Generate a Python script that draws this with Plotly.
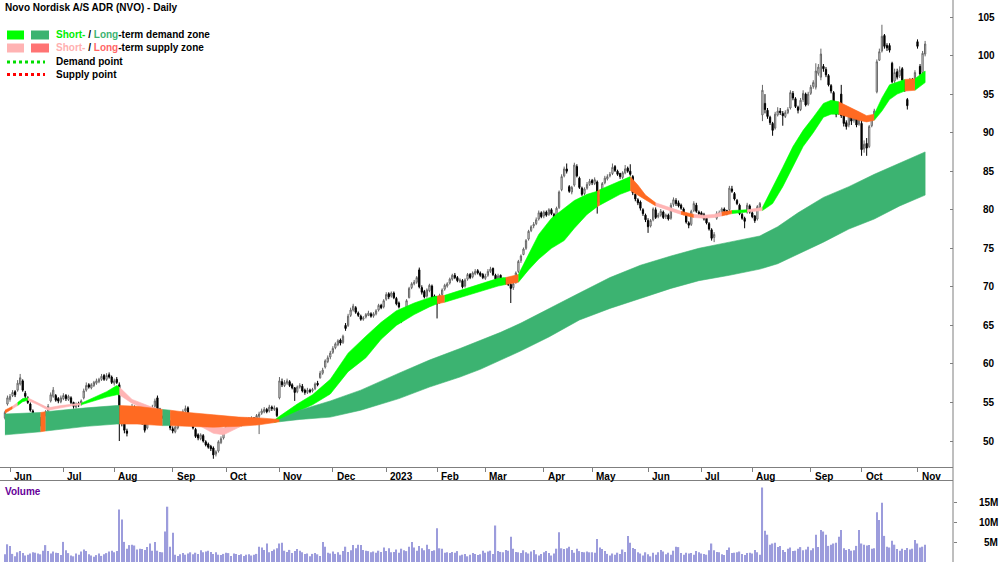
import pandas as pd
import plotly.graph_objects as go

# ------------------------------------------------------------------ data
TITLE = "Novo Nordisk A/S ADR (NVO) - Daily"
FIRST_SESSION = "2022-05-27"
LAST_SESSION = "2023-11-07"
HOLIDAYS = ["2022-05-30", "2022-06-20", "2022-07-04", "2022-09-05", "2022-11-24",
            "2022-12-26", "2023-01-02", "2023-01-16", "2023-02-20", "2023-04-07",
            "2023-05-29", "2023-06-19", "2023-07-04", "2023-09-04"]

opens = [
    53.0, 54.8,
    55.4, 55.9, 56.4, 56.6, 57.4, 57.8, 56.2, 55.6, 54.8, 53.9, 53.4, 53.2, 52.9, 52.7, 53.5, 53.9, 55.2, 55.8, 55.9, 55.5, 55.1,
    55.5, 55.9, 55.4, 55.6, 55.0, 54.4, 54.9, 54.8, 55.6, 56.6, 57.3, 56.9, 57.2, 57.5, 57.7, 58.0, 58.5, 58.0, 58.6, 58.3,
    57.5, 58.0, 57.3, 52.9, 52.2, 51.3, 52.9, 53.7, 54.3, 53.8, 53.0, 52.6, 52.2, 51.7, 52.7, 53.7, 54.5, 55.6, 54.1, 53.5, 53.1, 52.8, 52.5,
    51.6, 51.2, 51.7, 52.3, 52.9, 53.9, 54.3, 53.1, 52.3, 51.5, 50.8, 50.3, 50.7, 49.9, 49.6, 49.3, 49.1, 48.3, 48.7, 49.8, 50.4,
    51.3, 51.9, 52.5, 52.9, 52.4, 52.6, 52.1, 52.4, 52.8, 52.6, 52.8, 53.0, 52.7, 53.2, 53.6, 53.8, 54.1, 53.9, 54.4, 54.1, 54.2,
    55.6, 57.7, 57.2, 57.5, 57.7, 57.3, 56.9, 56.4, 57.0, 57.1, 56.6, 56.3, 56.6, 56.5, 56.8, 57.5, 58.2, 58.8, 59.6, 60.3, 60.9,
    61.5, 62.1, 62.5, 63.1, 62.8, 65.0, 65.0, 66.3, 67.0, 67.3, 66.6, 66.2, 65.8, 66.1, 66.3, 66.5, 66.2, 66.5, 67.0, 67.6, 67.4,
    68.4, 69.1, 68.8, 69.2, 68.5, 67.9, 65.5, 66.1, 67.4, 68.6, 69.9, 70.4, 70.6, 72.2, 69.9, 69.4, 68.8, 69.5, 70.1, 68.8,
    68.5, 68.0, 69.0, 69.7, 70.1, 70.5, 71.0, 71.5, 71.2, 70.7, 70.8, 70.1, 71.0, 71.6, 71.3, 71.7, 72.1, 71.8, 71.6,
    71.1, 71.5, 72.0, 72.4, 71.5, 71.0, 71.5, 70.6, 70.9, 70.6, 70.3, 69.9, 70.6, 72.0, 73.4, 74.2, 75.0, 76.2, 77.3, 77.9, 78.2, 78.8, 79.6,
    79.2, 79.7, 79.4, 80.0, 79.4, 79.0, 80.3, 82.6, 84.4, 85.3, 83.0, 82.3, 83.2, 85.6, 84.1, 82.8, 82.1, 82.8, 83.3,
    83.8, 83.4, 83.6, 81.1, 81.9, 83.5, 84.0, 84.4, 84.7, 85.6, 85.0, 84.7, 84.2, 84.8, 85.4, 85.0, 84.3, 82.0, 81.3, 81.0, 80.0, 79.3,
    78.6, 77.9, 78.7, 80.0, 79.1, 79.3, 79.7, 79.1, 79.3, 78.9, 80.7, 81.2, 80.9, 80.6, 80.1, 79.4, 78.3, 78.1, 79.9, 80.6, 79.7,
    79.6, 79.4, 78.9, 78.2, 77.4, 76.4, 78.9, 79.4, 79.7, 80.1, 79.9, 80.0, 82.7, 82.1, 81.2, 80.6, 79.4, 78.9, 79.7,
    80.5, 79.6, 79.2, 78.8, 80.3, 92.3, 93.8, 92.9, 92.0, 91.2, 90.6, 92.3, 92.8, 92.5, 92.1, 92.6, 93.2, 95.1, 94.4, 93.3, 93.0, 94.3, 95.0,
    93.7, 95.1, 96.0, 95.9, 97.7, 97.2, 98.6, 98.2, 97.4, 96.1, 95.2, 93.0, 92.5, 95.0, 92.3, 91.3, 91.0, 92.1, 91.6, 91.9,
    91.1, 91.2, 87.9, 88.6, 88.2, 90.9, 92.0, 95.3, 99.4, 100.6, 102.6, 101.3, 101.3, 99.0, 96.7, 97.9, 97.4, 98.3, 96.6, 94.3, 95.8, 96.9,
    96.5, 101.8, 98.6, 97.8, 100.2,
]
highs = [
    53.9, 55.9,
    56.1, 56.6, 56.6, 57.9, 58.7, 58.0, 56.5, 55.8, 55.0, 54.1, 53.6, 53.4, 53.1, 53.6, 54.0, 54.8, 56.3, 57.0, 56.1, 55.7, 55.9,
    56.2, 56.1, 56.0, 55.8, 55.1, 55.0, 55.1, 55.4, 56.8, 57.6, 57.5, 57.5, 57.8, 58.1, 58.2, 58.7, 58.7, 58.8, 58.9, 58.5,
    58.1, 58.3, 57.6, 53.3, 52.5, 51.6, 53.9, 54.8, 54.6, 54.1, 53.3, 52.8, 52.4, 52.9, 53.9, 54.7, 55.5, 55.9, 54.3, 53.7, 53.3, 53.1, 52.7,
    51.9, 52.0, 52.4, 53.0, 54.1, 54.6, 54.5, 53.3, 52.5, 51.7, 51.0, 51.0, 50.9, 50.1, 49.8, 49.5, 49.3, 48.8, 50.1, 50.6, 51.5,
    52.0, 52.8, 53.1, 53.1, 52.9, 52.8, 52.6, 53.0, 53.0, 53.1, 53.2, 53.1, 53.5, 53.8, 54.2, 54.4, 54.3, 54.7, 54.6, 54.6, 54.4,
    58.3, 58.1, 57.9, 58.1, 57.9, 57.5, 57.0, 57.2, 57.5, 57.4, 56.8, 56.9, 56.8, 56.9, 57.6, 57.8, 59.1, 59.5, 60.6, 61.1, 61.7,
    62.3, 62.8, 63.2, 63.3, 63.8, 65.3, 66.5, 67.3, 67.8, 67.5, 66.8, 66.4, 66.2, 66.6, 66.9, 66.7, 66.7, 67.1, 67.8, 67.8, 68.4,
    69.3, 69.3, 69.4, 69.4, 68.7, 68.1, 66.5, 66.9, 68.4, 70.0, 70.6, 70.9, 71.4, 72.5, 70.2, 69.6, 69.8, 70.4, 70.3, 69.0,
    68.8, 69.1, 69.8, 70.4, 70.6, 71.2, 71.7, 71.8, 71.4, 71.1, 71.0, 71.1, 71.8, 71.8, 72.0, 72.3, 72.3, 72.0, 71.8,
    71.7, 72.3, 72.6, 72.5, 71.7, 71.7, 71.6, 71.2, 71.1, 70.8, 70.5, 70.6, 72.0, 73.5, 74.2, 75.1, 76.2, 77.4, 78.0, 78.4, 79.0, 79.9, 79.8,
    79.9, 79.9, 80.2, 80.2, 79.6, 80.4, 82.5, 84.6, 85.6, 86.0, 83.2, 83.1, 86.1, 85.9, 84.3, 83.0, 82.9, 83.6, 84.0,
    84.0, 84.2, 83.8, 82.0, 83.6, 84.4, 84.6, 84.9, 86.0, 85.8, 85.2, 84.8, 85.0, 85.8, 85.6, 85.9, 84.5, 82.2, 81.5, 81.2, 80.2, 79.5,
    78.9, 78.8, 80.3, 80.3, 79.6, 80.1, 79.9, 79.5, 79.5, 80.9, 81.6, 81.5, 81.2, 80.8, 80.3, 79.6, 78.5, 80.0, 81.1, 80.9, 79.9,
    79.8, 79.6, 79.0, 78.4, 77.6, 77.1, 79.8, 79.9, 80.3, 80.3, 80.0, 83.1, 83.1, 82.3, 81.4, 80.8, 79.6, 79.1, 80.9,
    80.7, 79.9, 79.3, 80.6, 81.0, 96.2, 95.0, 93.2, 92.2, 91.4, 92.7, 93.3, 93.2, 92.8, 92.9, 93.3, 95.5, 95.4, 94.6, 93.5, 94.5, 95.5, 95.2,
    95.3, 96.2, 96.8, 99.0, 98.9, 100.9, 98.9, 98.5, 97.6, 96.3, 95.4, 93.4, 94.0, 96.2, 92.6, 91.6, 92.5, 92.4, 92.2, 92.2,
    92.2, 91.6, 89.0, 89.3, 91.0, 92.2, 93.1, 99.5, 100.9, 104.0, 102.8, 101.6, 101.6, 99.2, 98.3, 98.3, 98.6, 98.5, 96.8, 94.5, 97.1, 97.1,
    98.1, 102.1, 98.9, 100.6, 101.9,
]
lows = [
    52.8, 54.6,
    55.1, 55.7, 55.7, 56.4, 57.2, 56.4, 55.5, 54.8, 53.8, 53.0, 52.7, 52.3, 51.9, 52.5, 53.2, 53.7, 55.0, 55.6, 55.1, 54.9, 54.9,
    55.3, 55.2, 55.2, 54.8, 54.2, 54.2, 54.4, 54.6, 55.4, 56.4, 56.8, 56.7, 57.0, 57.3, 57.5, 57.8, 57.8, 57.8, 58.1, 57.4,
    57.2, 57.4, 50.0, 51.9, 51.0, 50.6, 52.7, 53.5, 53.7, 52.9, 52.5, 52.1, 51.1, 51.5, 52.5, 53.5, 54.3, 53.8, 53.3, 52.9, 52.5, 52.3, 51.4,
    51.0, 51.0, 51.5, 52.1, 52.7, 53.7, 53.0, 52.2, 51.5, 50.4, 50.1, 50.1, 49.8, 49.3, 49.0, 48.7, 47.7, 48.0, 48.5, 49.6, 50.2,
    51.1, 51.7, 52.3, 52.1, 52.2, 51.8, 51.9, 52.2, 52.3, 52.4, 52.6, 52.4, 52.5, 50.9, 53.4, 53.6, 53.6, 53.7, 53.9, 53.9, 53.1,
    55.4, 57.0, 57.0, 57.3, 57.0, 56.7, 55.2, 56.2, 56.8, 56.3, 56.0, 56.1, 56.2, 56.3, 56.6, 57.1, 58.1, 58.6, 59.4, 60.1, 60.6,
    61.3, 61.9, 62.3, 62.4, 62.6, 64.3, 64.8, 66.1, 66.8, 66.5, 66.1, 65.6, 65.6, 65.9, 66.2, 66.0, 66.0, 66.3, 66.8, 67.1, 67.2,
    68.2, 68.4, 68.6, 68.4, 67.6, 67.2, 65.3, 65.9, 67.3, 68.5, 69.7, 70.2, 70.4, 69.8, 69.0, 68.5, 68.6, 69.3, 68.4, 68.1,
    65.9, 67.8, 68.8, 69.5, 69.9, 70.3, 70.8, 71.0, 70.6, 70.5, 69.8, 69.9, 70.8, 71.0, 71.1, 71.5, 71.6, 71.3, 71.0,
    70.9, 71.3, 71.8, 71.4, 70.8, 70.8, 70.4, 70.4, 70.3, 70.1, 67.9, 69.6, 70.4, 71.8, 73.1, 74.1, 74.8, 76.0, 77.1, 77.6, 78.0, 78.6, 78.9,
    78.9, 79.1, 79.2, 79.3, 78.6, 78.8, 80.1, 82.4, 84.2, 84.7, 82.2, 82.0, 83.0, 84.2, 82.7, 81.8, 81.9, 82.6, 83.1,
    83.2, 83.2, 79.5, 80.9, 81.7, 83.3, 83.8, 84.2, 84.5, 84.9, 84.4, 84.0, 84.0, 84.6, 84.8, 84.4, 81.9, 81.1, 80.6, 79.9, 79.2, 78.4,
    77.0, 77.7, 78.5, 78.8, 78.9, 79.1, 78.8, 78.8, 78.6, 78.7, 80.4, 80.5, 80.3, 80.0, 79.3, 78.2, 77.6, 77.9, 79.7, 79.6, 79.2,
    79.0, 78.6, 78.1, 77.3, 76.0, 75.8, 78.7, 79.2, 79.5, 79.6, 79.3, 79.8, 82.2, 81.2, 80.6, 79.3, 78.7, 77.6, 79.5,
    79.5, 78.9, 78.3, 78.6, 80.1, 91.5, 92.5, 91.8, 91.0, 89.6, 90.4, 92.1, 92.3, 90.9, 91.9, 92.4, 93.0, 94.2, 93.2, 92.5, 92.8, 94.0, 93.4,
    93.5, 94.9, 95.7, 95.6, 97.4, 96.8, 97.9, 97.2, 96.0, 95.1, 92.9, 92.0, 92.3, 91.9, 90.8, 90.4, 90.7, 91.0, 91.3, 90.7,
    90.9, 87.0, 87.4, 87.0, 88.0, 90.7, 91.8, 95.1, 99.3, 100.4, 100.9, 100.6, 100.4, 96.4, 96.4, 96.9, 97.1, 96.6, 95.3, 93.0, 95.6, 96.0,
    96.3, 100.9, 97.2, 97.6, 99.9,
]
closes = [
    53.7, 55.6,
    55.8, 56.3, 56.0, 57.5, 58.2, 56.6, 55.8, 55.0, 54.0, 53.2, 53.0, 52.6, 52.3, 53.4, 53.8, 54.5, 56.0, 56.6, 55.3, 55.2, 55.6,
    55.9, 55.5, 55.8, 55.0, 54.5, 54.8, 54.7, 55.2, 56.5, 57.2, 57.0, 57.3, 57.6, 57.8, 58.0, 58.4, 58.0, 58.5, 58.3, 57.6,
    57.8, 57.6, 52.8, 52.3, 51.4, 51.0, 53.6, 54.4, 53.9, 53.1, 52.7, 52.4, 51.4, 52.6, 53.6, 54.4, 55.2, 54.0, 53.6, 53.2, 52.8, 52.6, 51.7,
    51.3, 51.8, 52.2, 52.8, 53.8, 54.2, 53.2, 52.4, 51.7, 50.6, 50.4, 50.8, 50.0, 49.5, 49.2, 49.0, 48.2, 48.6, 49.9, 50.3, 51.2,
    51.8, 52.6, 52.9, 52.3, 52.7, 52.0, 52.4, 52.8, 52.5, 52.9, 53.0, 52.6, 53.3, 53.5, 53.9, 54.1, 53.8, 54.4, 54.2, 54.3, 53.3,
    57.8, 57.3, 57.6, 57.8, 57.2, 56.9, 56.3, 57.0, 57.2, 56.5, 56.3, 56.6, 56.4, 56.7, 57.4, 57.3, 58.8, 59.2, 60.4, 60.8, 61.4,
    62.0, 62.6, 63.0, 62.7, 63.6, 64.6, 66.2, 67.0, 67.5, 66.7, 66.3, 65.8, 66.0, 66.4, 66.6, 66.2, 66.5, 66.9, 67.6, 67.3, 68.2,
    69.0, 68.7, 69.2, 68.6, 67.8, 67.4, 66.0, 66.6, 68.2, 69.8, 70.4, 70.6, 71.2, 70.0, 69.3, 68.7, 69.6, 70.2, 68.6, 68.4,
    67.8, 68.9, 69.6, 70.2, 70.4, 71.0, 71.5, 71.2, 70.8, 70.9, 70.0, 70.9, 71.6, 71.2, 71.8, 72.0, 71.8, 71.5, 71.2,
    71.4, 72.0, 72.3, 71.6, 71.0, 71.4, 70.6, 70.9, 70.5, 70.3, 69.8, 70.4, 71.8, 73.3, 74.0, 74.9, 76.0, 77.2, 77.8, 78.1, 78.7, 79.6, 79.1,
    79.7, 79.3, 80.0, 79.5, 78.8, 80.2, 82.3, 84.3, 85.3, 85.0, 82.4, 82.9, 85.8, 84.4, 82.9, 82.0, 82.7, 83.3, 83.7,
    83.5, 83.9, 81.0, 81.8, 83.4, 84.1, 84.3, 84.6, 85.5, 85.1, 84.6, 84.3, 84.8, 85.3, 85.0, 84.6, 82.2, 81.4, 80.9, 80.2, 79.5, 78.7,
    77.8, 78.6, 80.1, 79.0, 79.3, 79.8, 79.0, 79.3, 78.8, 80.6, 81.3, 80.8, 80.5, 80.2, 79.5, 78.4, 78.0, 79.8, 80.8, 79.8, 79.5,
    79.3, 78.8, 78.3, 77.5, 76.3, 76.8, 79.5, 79.6, 80.1, 79.8, 79.5, 82.8, 82.4, 81.4, 80.8, 79.5, 78.9, 78.5, 80.6,
    79.7, 79.1, 78.6, 80.4, 80.8, 95.5, 93.0, 92.1, 91.3, 90.3, 92.4, 92.8, 92.6, 92.2, 92.6, 93.0, 95.2, 94.5, 93.4, 92.9, 94.2, 95.1, 93.6,
    95.0, 95.9, 96.5, 98.0, 98.5, 100.2, 98.3, 97.5, 96.2, 95.4, 93.2, 92.4, 93.5, 92.2, 91.2, 90.8, 92.2, 91.5, 91.9, 91.0,
    91.8, 87.8, 88.5, 88.0, 90.8, 91.8, 92.8, 99.2, 100.5, 102.5, 101.2, 101.0, 100.7, 96.6, 97.8, 97.2, 98.1, 96.8, 95.6, 93.5, 96.8, 96.4,
    97.8, 101.2, 97.6, 100.3, 101.5,
]
volume_millions = [
    2.1, 4.6,
    4.2, 2.2, 1.6, 2.6, 2.9, 2.4, 1.8, 2.0, 2.3, 2.6, 2.5, 2.3, 2.1, 3.0, 4.4, 2.9, 2.3, 2.8, 2.5, 2.4, 1.9,
    5.2, 3.1, 2.4, 1.8, 1.6, 2.3, 2.0, 2.8, 3.3, 2.9, 2.1, 1.8, 1.5, 1.9, 2.3, 1.7, 2.1, 2.4, 2.8, 3.0,
    2.6, 2.9, 13.3, 10.8, 5.2, 3.5, 4.4, 4.5, 4.3, 3.3, 3.5, 3.4, 3.2, 3.9, 4.8, 3.0, 5.2, 3.0, 2.7, 2.6, 7.8, 14.0, 4.0,
    7.5, 2.0, 1.7, 2.1, 2.4, 2.0, 2.3, 2.6, 2.1, 2.5, 2.2, 3.1, 2.6, 2.8, 3.0, 2.7, 2.2, 2.6, 2.0, 1.9, 2.2,
    2.5, 2.4, 1.7, 2.3, 2.2, 1.9, 2.1, 1.7, 2.0, 2.1, 1.8, 2.0, 2.2, 4.0, 3.8, 3.2, 4.8, 2.6, 2.9, 3.3, 3.6,
    4.8, 5.0, 3.0, 2.7, 3.2, 2.4, 2.9, 3.4, 3.0, 2.6, 2.2, 2.3, 1.6, 2.2, 2.4, 2.1, 1.7, 5.2, 4.0, 2.5, 2.3,
    2.8, 2.2, 2.6, 2.0, 2.9, 4.0, 2.7, 3.1, 4.4, 3.6, 4.5, 4.4, 3.2, 3.0, 2.9, 2.6, 2.8, 2.5, 3.0, 2.7, 3.8,
    2.9, 3.6, 2.6, 2.7, 3.3, 2.5, 3.5, 3.1, 2.9, 4.0, 5.2, 3.8, 3.0, 4.2, 3.6, 3.1, 4.5, 3.4, 2.9, 3.1,
    8.6, 3.6, 3.5, 2.5, 2.6, 2.4, 2.7, 2.5, 2.9, 1.8, 2.0, 2.2, 1.6, 2.0, 2.4, 2.2, 1.9, 2.1, 3.0,
    2.5, 2.8, 3.0, 2.2, 9.3, 2.9, 2.7, 2.6, 3.2, 3.0, 6.5, 3.5, 2.7, 2.6, 2.4, 3.1, 2.6, 2.3, 2.8, 3.2, 2.1, 1.8, 2.2,
    2.6, 2.9, 2.4, 1.8, 2.3, 3.5, 7.6, 3.6, 3.4, 3.6, 4.0, 3.2, 2.5, 3.5, 2.9, 2.7, 2.6, 2.8, 2.6,
    2.6, 2.5, 5.9, 3.8, 3.4, 2.9, 2.2, 1.8, 2.3, 2.0, 2.5, 2.2, 3.3, 2.7, 6.7, 5.0, 3.7, 3.4, 2.6, 2.3, 1.8, 2.6,
    2.1, 1.6, 2.5, 2.0, 2.6, 3.2, 2.8, 2.1, 2.5, 2.0, 3.0, 4.0, 3.9, 2.4, 2.0, 2.5, 2.3, 2.4, 2.0, 2.9, 2.6,
    2.3, 2.2, 2.0, 3.1, 4.8, 3.1, 2.7, 2.6, 2.1, 1.9, 3.2, 3.8, 2.4, 2.5, 2.6, 2.8, 2.2, 1.9, 2.4,
    2.5, 2.3, 3.2, 2.6, 2.0, 18.8, 8.0, 7.0, 4.5, 4.8, 5.0, 3.9, 4.2, 3.2, 2.7, 3.5, 3.8, 2.9, 3.0, 3.5, 3.9, 3.1, 3.3,
    4.0, 3.1, 3.6, 7.0, 3.9, 8.2, 7.8, 7.0, 4.2, 4.5, 4.8, 5.0, 6.5, 8.2, 3.6, 3.2, 3.4, 3.0, 3.1, 4.2,
    8.2, 4.8, 4.5, 4.3, 4.4, 3.5, 3.6, 12.6, 10.7, 15.0, 6.7, 4.0, 3.8, 5.5, 4.5, 3.4, 3.0, 3.5, 3.2, 3.7, 3.3, 3.5,
    5.7, 4.8, 3.8, 4.0, 4.5,
]

# zone bands: sessions counted from BAND_ANCHOR, upper/lower edges, zone state
BAND_ANCHOR = "2022-06-01"
short_sessions = [-2, 1, 3, 5, 7, 11, 15, 20, 25, 28, 33, 38, 42, 43, 48, 55, 62, 70, 75, 80,
                  84, 88, 92, 98, 104, 106, 113, 119, 126, 133, 140, 146, 152, 159, 165, 168, 171, 178, 185, 192,
                  195, 200, 204, 208, 213, 218, 222, 227, 231, 232, 236, 240, 244, 247, 250, 254, 259, 264, 269, 273,
                  277, 280, 284, 290, 296, 300, 304, 308, 312, 316, 320, 323, 326, 330, 334, 337, 340, 343, 346, 349,
                  352, 356, 360]
short_upper = [54.0, 54.5, 55.0, 55.5, 55.6, 55.0, 54.3, 54.6, 54.8, 54.9, 55.6, 56.4, 57.2, 57.0, 55.4, 54.5, 53.7, 53.3, 52.8, 52.0,
               51.7, 52.2, 52.6, 52.7, 52.7, 53.2, 54.8, 56.0, 58.0, 61.4, 63.6, 65.4, 66.9, 67.9, 68.6, 68.8, 68.9, 69.6, 70.4, 71.1,
               71.2, 71.6, 74.2, 76.8, 78.9, 80.2, 81.2, 82.0, 82.4, 82.6, 83.2, 83.8, 84.3, 83.2, 81.9, 80.9, 80.3, 79.8, 79.4, 79.3,
               79.4, 79.7, 79.9, 80.0, 80.3, 82.8, 85.5, 88.2, 90.3, 92.0, 93.8, 94.2, 94.0, 93.4, 92.7, 92.2, 92.4, 94.5, 96.2, 96.6,
               96.9, 97.0, 98.0]
short_lower = [53.6, 54.2, 54.6, 55.1, 55.3, 54.7, 54.0, 54.3, 54.6, 54.7, 55.2, 55.7, 56.0, 56.0, 54.9, 53.9, 53.1, 52.6, 51.9, 51.0,
               50.8, 51.5, 52.1, 52.3, 52.4, 52.6, 53.8, 54.7, 56.1, 59.0, 60.8, 63.2, 65.0, 66.4, 67.4, 67.8, 68.0, 68.6, 69.4, 70.1,
               70.3, 70.6, 72.2, 73.6, 75.0, 76.0, 77.6, 79.4, 80.4, 80.6, 81.3, 82.0, 82.5, 82.0, 81.3, 80.5, 80.0, 79.4, 79.0, 78.9,
               79.0, 79.2, 79.5, 79.7, 79.9, 80.8, 83.0, 85.6, 88.2, 90.0, 92.0, 92.4, 92.4, 92.0, 91.6, 91.4, 91.6, 92.8, 94.3, 95.0,
               95.4, 95.5, 96.5]
# D = demand, S = weak supply, X = supply
short_zone = ("X S D D S S S S S D  D D D S S S S S S S  S S S S D D D D D D  D D D D D X D D D D  "
              "X D D D D D D D X D  D D X X X S S X S S  S X D S D D D D D D  D D X X X X D D D D  X D D").split()

long_sessions = [-2, 5, 12, 14, 20, 30, 42, 43, 50, 60, 63, 70, 80, 90, 98, 104, 106, 114, 126, 138,
                 153, 165, 177, 185, 193, 201, 212, 224, 236, 248, 260, 271, 283, 295, 302, 310, 320, 330, 340, 350, 360]
long_upper = [53.5, 53.6, 53.7, 53.8, 54.0, 54.3, 54.6, 54.6, 54.5, 54.1, 54.0, 53.7, 53.4, 53.1, 53.0, 52.9, 52.8, 54.0, 55.2, 56.6,
              58.8, 60.5, 62.0, 63.0, 64.1, 65.3, 67.2, 69.2, 71.2, 72.8, 74.0, 75.0, 75.8, 76.6, 77.8, 79.6, 81.6, 83.0, 84.6, 86.0, 87.5]
long_lower = [50.8, 51.0, 51.2, 51.3, 51.5, 51.9, 52.2, 52.2, 52.2, 52.0, 52.0, 51.9, 51.8, 51.9, 52.1, 52.4, 52.5, 52.8, 53.1, 54.0,
              55.5, 57.0, 58.3, 59.3, 60.5, 61.7, 63.5, 65.7, 67.2, 68.5, 69.8, 70.8, 71.5, 72.3, 73.0, 74.2, 75.8, 77.5, 78.8, 80.5, 81.9]
long_zone = ("D D S D D D D S S D  S S S S S S D D D D  D D D D D D D D D D  D D D D D D D D D D  D").split()

price_ticks = [50, 55, 60, 65, 70, 75, 80, 85, 90, 95, 100, 105]
volume_ticks = [5e6, 10e6, 15e6]
volume_tick_text = ["5M", "10M", "15M"]

# ------------------------------------------------------------------ styles
FONT = "Liberation Sans, Arial, sans-serif"
SHORT_COLORS = {"D": "#00FF00", "S": "#FFB4B4", "X": "#FF6A22"}
LONG_COLORS = {"D": "#3CB371", "S": "#FF6A22"}
AXIS_COLOR = "#7f7f7f"
W, H, PLOT_W = 1000, 562, 953
PRICE_RANGE = [46.63, 107.21]
VOL_RANGE = [0.175e6, 20.425e6]

sessions = pd.bdate_range(FIRST_SESSION, LAST_SESSION)
sessions = sessions[~sessions.isin(pd.to_datetime(HOLIDAYS))]
n = len(closes)
xs = list(range(n))
anchor = int(sessions.get_loc(pd.Timestamp(BAND_ANCHOR)))


def band_polygons(sess, upper, lower, zone, colors):
    out = []
    m = len(sess)
    j = 0
    while j < m - 1:
        z = zone[j]
        k = j
        while k + 1 < m - 1 and zone[k + 1] == z:
            k += 1
        px = [anchor + s for s in sess[j:k + 2]]
        xx = px + px[::-1]
        yy = list(upper[j:k + 2]) + list(lower[j:k + 2])[::-1]
        out.append(go.Scatter(x=xx, y=yy, fill="toself", fillcolor=colors[z], mode="lines",
                              line=dict(color=colors[z], width=0.6), hoverinfo="skip",
                              showlegend=False, xaxis="x", yaxis="y"))
        j = k + 1
    return out


fig = go.Figure()
for tr in band_polygons(short_sessions, short_upper, short_lower, short_zone, SHORT_COLORS):
    fig.add_trace(tr)
for tr in band_polygons(long_sessions, long_upper, long_lower, long_zone, LONG_COLORS):
    fig.add_trace(tr)

fig.add_trace(go.Candlestick(
    x=xs, open=opens, high=highs, low=lows, close=closes,
    increasing=dict(line=dict(color="#666666", width=1), fillcolor="white"),
    decreasing=dict(line=dict(color="black", width=1), fillcolor="black"),
    whiskerwidth=0, hoverinfo="skip", showlegend=False, xaxis="x", yaxis="y"))

fig.add_trace(go.Bar(x=xs, y=[v * 1e6 for v in volume_millions],
                     marker=dict(color="#9c9cdc", line=dict(width=0)),
                     hoverinfo="skip", showlegend=False, xaxis="x2", yaxis="y2"))

# month ticks
month_pos, month_txt = [], []
for k in range(1, len(sessions)):
    if sessions[k].month != sessions[k - 1].month:
        month_pos.append(k)
        month_txt.append(str(sessions[k].year) if sessions[k].month == 1 else sessions[k].strftime("%b"))

xrange_ = [-4.92 / 2.542, (PLOT_W - 4.92) / 2.542]
price_dom = [1 - 467 / H, 1]
vol_dom = [0, 1 - 481 / H]

fig.update_layout(
    width=W, height=H, margin=dict(l=0, r=W - PLOT_W, t=0, b=0),
    paper_bgcolor="white", plot_bgcolor="white", showlegend=False, hovermode=False,
    bargap=0.5, font=dict(family=FONT, size=10, color="black"),
    xaxis=dict(domain=[0, 1], range=xrange_, anchor="y", rangeslider=dict(visible=False),
               tickvals=month_pos, ticks="outside", ticklen=4, tickcolor=AXIS_COLOR,
               showticklabels=False, showline=True, linecolor=AXIS_COLOR, linewidth=1,
               showgrid=False, zeroline=False, fixedrange=True),
    xaxis2=dict(domain=[0, 1], range=xrange_, anchor="y2", side="top", showticklabels=False,
                ticks="", showline=True, linecolor=AXIS_COLOR, linewidth=1,
                showgrid=False, zeroline=False),
    yaxis=dict(domain=price_dom, range=PRICE_RANGE, side="right", anchor="x",
               tickvals=price_ticks, showticklabels=False, ticks="inside", ticklen=3,
               tickcolor=AXIS_COLOR, showgrid=False, zeroline=False, showline=False),
    yaxis2=dict(domain=vol_dom, range=VOL_RANGE, side="right", anchor="x2",
                tickvals=volume_ticks, showticklabels=False, ticks="outside", ticklen=3,
                tickcolor=AXIS_COLOR, showgrid=False, zeroline=False, showline=False),
)


def px_x(v):
    return v / PLOT_W


def px_y(v):
    return 1 - v / H


def value_to_paper(v, rng, dom):
    return dom[0] + (v - rng[0]) / (rng[1] - rng[0]) * (dom[1] - dom[0])


ann = []
bold = dict(family=FONT, size=10, color="black")
for v in price_ticks:
    ann.append(dict(x=px_x(996), xref="paper", y=value_to_paper(v, PRICE_RANGE, price_dom), yref="paper",
                    text=f"<b>{v}</b>", showarrow=False, xanchor="right", yanchor="middle",
                    font=bold, borderpad=0))
for v, t in zip(volume_ticks, volume_tick_text):
    ann.append(dict(x=px_x(999), xref="paper", y=value_to_paper(v, VOL_RANGE, vol_dom), yref="paper",
                    text=f"<b>{t}</b>", showarrow=False, xanchor="right", yanchor="middle",
                    font=bold, borderpad=0))
for p, t in zip(month_pos, month_txt):
    ann.append(dict(x=p, xref="x", y=px_y(476), yref="paper", text=f"<b>{t}</b>",
                    showarrow=False, xanchor="left", yanchor="middle", xshift=2, font=bold))

ann.append(dict(x=px_x(3), xref="paper", y=px_y(8), yref="paper", text=f"<b>{TITLE}</b>",
                showarrow=False, xanchor="left", yanchor="middle", font=bold))
ann.append(dict(x=px_x(3), xref="paper", y=px_y(491), yref="paper", text="<b>Volume</b>",
                showarrow=False, xanchor="left", yanchor="middle",
                font=dict(family=FONT, size=10, color="#660099")))
legend_rows = [
    (34.5, "<b><span style='color:#00EE00'>Short-</span> / <span style='color:#3CB371'>Long</span>-term demand zone</b>"),
    (48, "<b><span style='color:#FFB0B0'>Short-</span> / <span style='color:#FF6666'>Long</span>-term supply zone</b>"),
    (62, "<b>Demand point</b>"),
    (74.5, "<b>Supply point</b>"),
]
for yy, txt in legend_rows:
    ann.append(dict(x=px_x(54), xref="paper", y=px_y(yy), yref="paper", text=txt,
                    showarrow=False, xanchor="left", yanchor="middle", font=bold))

shapes = [
    dict(type="line", xref="paper", yref="paper", x0=1, x1=1, y0=0, y1=1,
         line=dict(color=AXIS_COLOR, width=1)),
    dict(type="rect", xref="paper", yref="paper", x0=px_x(7), x1=px_x(24), y0=px_y(39.5), y1=px_y(30.5),
         fillcolor="#00FF00", line=dict(width=0)),
    dict(type="rect", xref="paper", yref="paper", x0=px_x(31), x1=px_x(49), y0=px_y(39.5), y1=px_y(30.5),
         fillcolor="#3CB371", line=dict(width=0)),
    dict(type="rect", xref="paper", yref="paper", x0=px_x(7), x1=px_x(24), y0=px_y(52.5), y1=px_y(43.5),
         fillcolor="#FFB3B3", line=dict(width=0)),
    dict(type="rect", xref="paper", yref="paper", x0=px_x(31), x1=px_x(49), y0=px_y(52.5), y1=px_y(43.5),
         fillcolor="#FF7373", line=dict(width=0)),
    dict(type="line", xref="paper", yref="paper", x0=px_x(7), x1=px_x(45), y0=px_y(62), y1=px_y(62),
         line=dict(color="#00DD00", width=3, dash="dot")),
    dict(type="line", xref="paper", yref="paper", x0=px_x(7), x1=px_x(45), y0=px_y(74.5), y1=px_y(74.5),
         line=dict(color="#FF0000", width=3, dash="dot")),
]
fig.update_layout(annotations=ann, shapes=shapes)

fig.write_html("out.html")
